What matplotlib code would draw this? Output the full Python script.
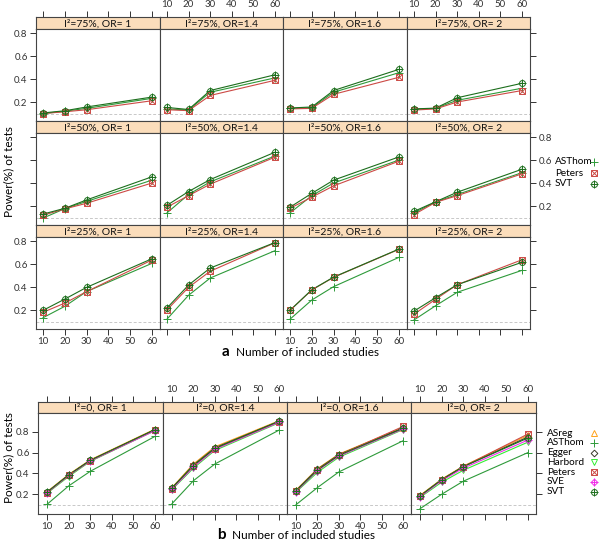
import matplotlib
matplotlib.use('Agg')
import matplotlib.pyplot as plt

plt.rcParams['font.family'] = ['Lato', 'DejaVu Sans']

n_studies = [10, 20, 30, 60]
or_labels = ['OR= 1', 'OR=1.4', 'OR=1.6', 'OR= 2']
i2_labels_a = ['75%', '50%', '25%']

# block a: one row per I2 (75%, 50%, 25%), one list per OR inside a row
asthom_a = [
    [[0.100, 0.120, 0.145, 0.232], [0.140, 0.130, 0.285, 0.410], [0.145, 0.150, 0.285, 0.455], [0.137, 0.145, 0.215, 0.320]],
    [[0.095, 0.177, 0.240, 0.425], [0.140, 0.300, 0.410, 0.635], [0.140, 0.290, 0.400, 0.600], [0.140, 0.235, 0.300, 0.490]],
    [[0.133, 0.232, 0.360, 0.606], [0.120, 0.328, 0.478, 0.716], [0.120, 0.287, 0.403, 0.658], [0.113, 0.237, 0.354, 0.545]],
]
peters_a = [
    [[0.100, 0.115, 0.133, 0.211], [0.133, 0.125, 0.257, 0.389], [0.140, 0.145, 0.267, 0.415], [0.130, 0.140, 0.200, 0.300]],
    [[0.120, 0.175, 0.224, 0.400], [0.190, 0.290, 0.390, 0.625], [0.180, 0.277, 0.375, 0.590], [0.125, 0.232, 0.290, 0.480]],
    [[0.180, 0.260, 0.360, 0.635], [0.200, 0.397, 0.537, 0.785], [0.197, 0.374, 0.484, 0.728], [0.163, 0.293, 0.420, 0.637]],
]
svt_a = [
    [[0.105, 0.124, 0.157, 0.243], [0.153, 0.135, 0.300, 0.437], [0.148, 0.157, 0.300, 0.484], [0.140, 0.147, 0.237, 0.363]],
    [[0.130, 0.180, 0.253, 0.454], [0.206, 0.326, 0.430, 0.668], [0.190, 0.310, 0.425, 0.627], [0.153, 0.237, 0.320, 0.520]],
    [[0.197, 0.295, 0.397, 0.646], [0.217, 0.417, 0.565, 0.787], [0.197, 0.376, 0.486, 0.730], [0.190, 0.307, 0.420, 0.615]],
]

# block b: I2 = 0, one list per OR
asreg_b = [[0.225, 0.390, 0.530, 0.825], [0.265, 0.490, 0.655, 0.905], [0.240, 0.445, 0.585, 0.840], [0.190, 0.345, 0.470, 0.765]]
asthom_b = [[0.104, 0.280, 0.420, 0.755], [0.110, 0.330, 0.490, 0.815], [0.100, 0.264, 0.414, 0.713], [0.062, 0.200, 0.325, 0.600]]
egger_b = [[0.220, 0.385, 0.525, 0.820], [0.260, 0.480, 0.645, 0.900], [0.235, 0.440, 0.580, 0.835], [0.185, 0.340, 0.465, 0.750]]
harbord_b = [[0.210, 0.370, 0.515, 0.810], [0.245, 0.450, 0.620, 0.885], [0.220, 0.410, 0.555, 0.820], [0.170, 0.315, 0.430, 0.700]]
peters_b = [[0.215, 0.380, 0.520, 0.815], [0.255, 0.470, 0.635, 0.895], [0.230, 0.435, 0.575, 0.850], [0.180, 0.340, 0.465, 0.778]]
sve_b = [[0.215, 0.380, 0.520, 0.810], [0.250, 0.460, 0.630, 0.890], [0.225, 0.425, 0.565, 0.825], [0.175, 0.330, 0.450, 0.720]]
svt_b = [[0.220, 0.385, 0.525, 0.820], [0.260, 0.475, 0.640, 0.900], [0.232, 0.433, 0.573, 0.832], [0.184, 0.340, 0.465, 0.740]]

styles = {
    'ASreg':   ('#FFA31A', ['^']),
    'ASThom':  ('#2E9A3A', ['+']),
    'Egger':   ('#3A3A2A', ['D']),
    'Harbord': ('#33EE33', ['v']),
    'Peters':  ('#CC4A45', ['s', 'x']),
    'SVE':     ('#F02EE8', ['D', '+']),
    'SVT':     ('#1C6E1C', ['o', '+']),
}
msize = {'^': 4.5, '+': 5.5, 'D': 3.4, 'v': 4.5, 's': 4.0, 'x': 4.0, 'o': 4.3}

W, H = 600, 542
fig = plt.figure(figsize=(6, 5.42), dpi=100)
STRIP = '#FBDDBB'
EDGE = '#444444'
TICKC = '#333333'


def box(l, t, r, b):
    return [l / W, 1 - b / H, (r - l) / W, (b - t) / H]


def put_markers(ax, x, y, name, **kw):
    color, marks = styles[name]
    for m in marks:
        ax.plot(x, y, ls='none', marker=m, ms=msize[m], mfc='none',
                mec=color, mew=0.7, zorder=3, **kw)


def make_block(cols, rows, strip_h, xlim, ylim, strip_text, series):
    nrow = len(rows)
    for r, (top, bottom) in enumerate(rows):
        for c in range(4):
            l, rr = cols[c], cols[c + 1]
            sax = fig.add_axes(box(l, top, rr, top + strip_h))
            sax.set_facecolor(STRIP)
            sax.set_xlim(xlim)
            sax.set_yticks([])
            for s in sax.spines.values():
                s.set_color(EDGE)
                s.set_linewidth(0.8)
            sax.text(0.5, 0.45, strip_text(r, c), transform=sax.transAxes,
                     ha='center', va='center', fontsize=7.5, color='#111111')
            if r == 0:
                sax.set_xticks([10, 20, 30, 40, 50, 60])
                sax.tick_params(axis='x', top=True, bottom=False, labeltop=(c % 2 == 1),
                                labelbottom=False, direction='out', length=4, width=0.7,
                                colors=TICKC, labelsize=7, pad=1.5)
            else:
                sax.set_xticks([])

            ax = fig.add_axes(box(l, top + strip_h, rr, bottom))
            ax.set_xlim(xlim)
            ax.set_ylim(ylim)
            for s in ax.spines.values():
                s.set_color(EDGE)
                s.set_linewidth(0.8)
            ax.axhline(0.1, color='#C8C8C8', lw=0.7, ls=(0, (3, 2)), zorder=1)
            for name, vals in series:
                y = vals[r][c] if nrow > 1 else vals[c]
                ax.plot(n_studies, y, color=styles[name][0], lw=0.8, zorder=2)
                put_markers(ax, n_studies, y, name)

            ax.set_xticks([10, 20, 30, 40, 50, 60])
            ax.set_yticks([0.2, 0.4, 0.6, 0.8])
            ax.set_yticklabels(['0.2', '0.4', '0.6', '0.8'])
            is_bottom = r == nrow - 1
            left_lab = (r % 2 == 0)
            ax.tick_params(axis='x', bottom=is_bottom, top=False,
                           labelbottom=is_bottom and c % 2 == 0, labeltop=False,
                           direction='out', length=4, width=0.7, colors=TICKC,
                           labelsize=7, pad=2)
            ax.tick_params(axis='y', left=(c == 0), right=(c == 3),
                           labelleft=(c == 0 and left_lab),
                           labelright=(c == 3 and not left_lab and nrow > 1),
                           direction='out', length=4, width=0.7, colors=TICKC,
                           labelsize=7, pad=2)


# ---- block a
rows_a = [(17, 121), (121, 225), (225, 329)]
make_block([36, 160, 283, 407, 530], rows_a, 12, (6.8, 63.7), (0.035, 0.835),
           lambda r, c: 'I\u00b2=%s, %s' % (i2_labels_a[r], or_labels[c]),
           [('ASThom', asthom_a), ('Peters', peters_a), ('SVT', svt_a)])

# ---- block b
make_block([38, 163, 287, 411, 536], [(402, 514)], 11, (5.8, 63.7), (0.011, 0.979),
           lambda r, c: 'I\u00b2=0, %s' % or_labels[c],
           [('ASreg', asreg_b), ('ASThom', asthom_b), ('Egger', egger_b),
            ('Harbord', harbord_b), ('Peters', peters_b), ('SVE', sve_b), ('SVT', svt_b)])

# axis titles
fig.text(9 / W, 1 - 172 / H, 'Power(%) of tests', rotation=90, ha='center', va='center', fontsize=8.5)
fig.text(9 / W, 1 - 458 / H, 'Power(%) of tests', rotation=90, ha='center', va='center', fontsize=8.5)
fig.text(229 / W, 1 - 356 / H, 'a', ha='right', va='baseline', fontsize=11, fontweight='bold')
fig.text(236 / W, 1 - 356 / H, 'Number of included studies', ha='left', va='baseline', fontsize=8.5)
fig.text(226 / W, 1 - 539 / H, 'b', ha='right', va='baseline', fontsize=11, fontweight='bold')
fig.text(232 / W, 1 - 539 / H, 'Number of included studies', ha='left', va='baseline', fontsize=8.5)

# legends
leg = fig.add_axes([0, 0, 1, 1], facecolor='none')
leg.set_xlim(0, W)
leg.set_ylim(H, 0)
leg.axis('off')


def legend(names, y0, step, tx):
    for i, name in enumerate(names):
        y = y0 + i * step
        leg.text(tx, y, name, ha='left', va='center', fontsize=7.2)
        put_markers(leg, [594], [y], name, clip_on=False)


legend(['ASThom', 'Peters', 'SVT'], 162, 11, 555)
legend(['ASreg', 'ASThom', 'Egger', 'Harbord', 'Peters', 'SVE', 'SVT'], 433, 9.8, 547)

fig.savefig('out.png', dpi=100)
